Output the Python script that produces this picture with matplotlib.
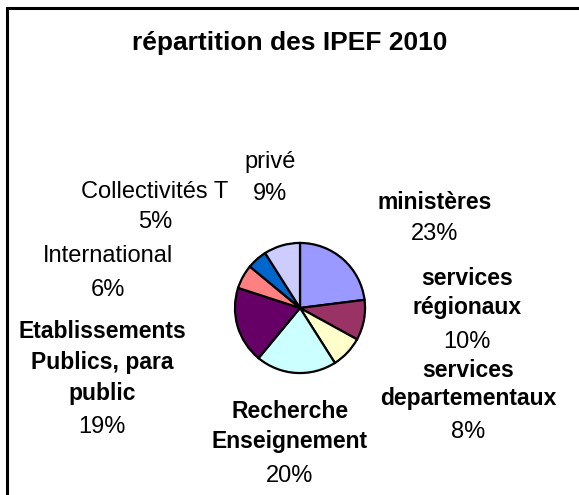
import matplotlib
matplotlib.use("Agg")
import matplotlib.pyplot as plt
from matplotlib.patches import Rectangle

# ---- data ----
categories = ["ministères", "services\nrégionaux", "services\ndepartementaux",
              "Recherche\nEnseignement", "Etablissements\nPublics, para\npublic",
              "International", "Collectivités T", "privé"]
values = [23, 10, 8, 20, 19, 6, 5, 9]
colors = ["#9999FF", "#993366", "#FFFFCC", "#CCFFFF", "#660066",
          "#FF8080", "#0066CC", "#CCCCFF"]
bold = [True, True, True, True, True, False, False, False]
title = "répartition des IPEF 2010"

# ---- layout (pixel positions of label line baselines) ----
W, H = 579, 495
# (x_center, first-line baseline, line step, pct baseline)
label_pos = [
    (435, 209, 31, 240),
    (467, 285, 29, 348),
    (468, 377, 28, 438),
    (290, 418, 30, 482),
    (102, 338, 31, 433),
    (108, 262, 0, 296),
    (155, 198, 0, 228),
    (270, 168, 0, 200),
]

fig = plt.figure(figsize=(W / 100, H / 100), dpi=100)
fig.patch.set_facecolor("white")

def fx(x):
    return x / W

def fy(y):
    return 1 - y / H

# border
border = Rectangle((fx(7), fy(H + 20)), fx(W + 20) - fx(7), fy(8) - fy(H + 20),
                   transform=fig.transFigure, fill=False, edgecolor="black",
                   linewidth=2.2, clip_on=False)
fig.patches.append(border)

# pie axes
cx, cy, r = 300, 308, 67
ax = fig.add_axes([fx(cx - r), fy(cy + r), 2 * r / W, 2 * r / H])
ax.pie(values, colors=colors, startangle=90, counterclock=False, radius=1,
       wedgeprops=dict(edgecolor="black", linewidth=1.6))
ax.set_xlim(-1.03, 1.03)
ax.set_ylim(-1.03, 1.03)
ax.set_aspect("equal")
ax.axis("off")

font = "Liberation Sans"
fig.text(fx(290), fy(50), title, ha="center", va="baseline",
         fontsize=19, fontweight="bold", family=font)

for cat, v, b, (x, y0, step, yp) in zip(categories, values, bold, label_pos):
    lines = cat.split("\n")
    for i, ln in enumerate(lines):
        fig.text(fx(x), fy(y0 + i * step), ln, ha="center", va="baseline",
                 fontsize=16.5 if b else 17,
                 fontweight="bold" if b else "normal", family=font)
    fig.text(fx(x), fy(yp), f"{v}%", ha="center", va="baseline",
             fontsize=17, family=font)

fig.savefig("out.png", dpi=100, facecolor="white")
